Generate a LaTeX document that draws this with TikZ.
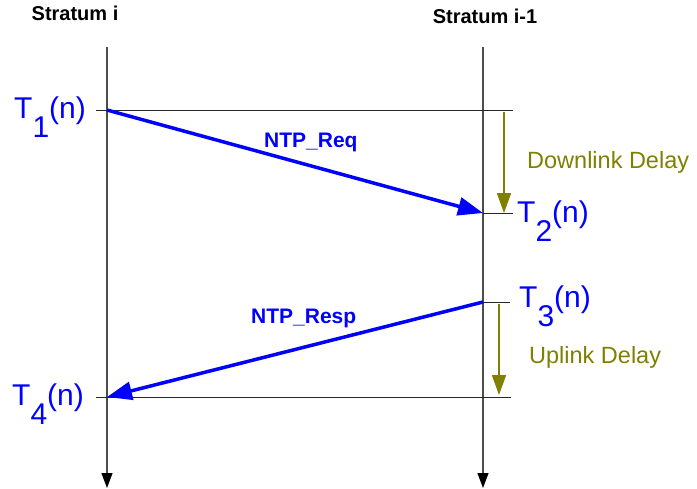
\documentclass[tikz,border=0pt]{standalone}
\usepackage{fontspec}
\setmainfont{Liberation Sans}
\usetikzlibrary{arrows.meta}
\definecolor{olivec}{RGB}{128,128,0}
\definecolor{tblue}{RGB}{0,0,255}
\newcommand\tlab[1]{T\raisebox{-19pt}{#1}(n)}
\begin{document}
\begin{tikzpicture}[x=1pt,y=-1pt,
  lifeline/.style={draw=black!70, line width=1.2pt, -{Triangle[length=15pt,width=11pt,color=black]}},
  tickline/.style={draw=black!85, line width=1pt},
  msg/.style={draw=tblue, line width=3.5pt, -{Triangle[length=25pt,width=18pt]}},
  delay/.style={draw=olivec, line width=1.8pt, -{Triangle[length=20pt,width=14pt]}},
  hdr/.style={font=\fontsize{20}{24}\selectfont\bfseries, inner sep=0pt, anchor=base},
  tl/.style={font=\fontsize{30}{34}\selectfont, text=tblue, inner sep=0pt},
  msgl/.style={font=\fontsize{21}{25}\selectfont\bfseries, text=tblue, inner sep=0pt, anchor=base west},
  dl/.style={font=\fontsize{23.5}{27}\selectfont, text=olivec, inner sep=0pt, anchor=base west}
]
\useasboundingbox (0,0) rectangle (697,488);
% lifelines
\coordinate (Ltop) at (107,47);
\coordinate (Lbot) at (107,488);
\coordinate (Rtop) at (483,47);
\coordinate (Rbot) at (483,488);
\draw[lifeline] (Ltop) -- (Lbot);
\draw[lifeline] (Rtop) -- (Rbot);
% time points
\coordinate (t1) at (107,110);
\coordinate (t2) at (483,213);
\coordinate (t3) at (483,302);
\coordinate (t4) at (107,397);
\coordinate (h1a) at (96,110);
\coordinate (h1b) at (513,110);
\coordinate (h2b) at (513,213);
\coordinate (h3b) at (510,302);
\coordinate (h4a) at (96,397);
\coordinate (h4b) at (511,397);
\draw[tickline] (h1a) -- (h1b);
\draw[tickline] (t2) -- (h2b);
\draw[tickline] (t3) -- (h3b);
\draw[tickline] (h4a) -- (h4b);
% delays
\coordinate (d1a) at (504,112);
\coordinate (d1b) at (504,213);
\coordinate (d2a) at (499,304);
\coordinate (d2b) at (499,395);
\draw[delay] (d1a) -- (d1b);
\draw[delay] (d2a) -- (d2b);
% messages
\draw[msg] (t1) -- (t2);
\draw[msg] (t3) -- (t4);
% labels
\node[hdr] (s1) at (75,20) {Stratum i};
\node[hdr] (s2) at (485,23) {Stratum i-1};
\node[tl, anchor=base west] (T1) at (14,118) {\tlab{1}};
\node[tl, anchor=base west] (T2) at (517,222) {\tlab{2}};
\node[tl, anchor=base west] (T3) at (519,307) {\tlab{3}};
\node[tl, anchor=base west] (T4) at (12,405) {\tlab{4}};
\node[msgl] (req) at (264,147) {NTP\_Req};
\node[msgl] (resp) at (251,323) {NTP\_Resp};
\node[dl] (down) at (527,168) {Downlink Delay};
\node[dl] (up) at (529,363) {Uplink Delay};
\end{tikzpicture}
\end{document}
